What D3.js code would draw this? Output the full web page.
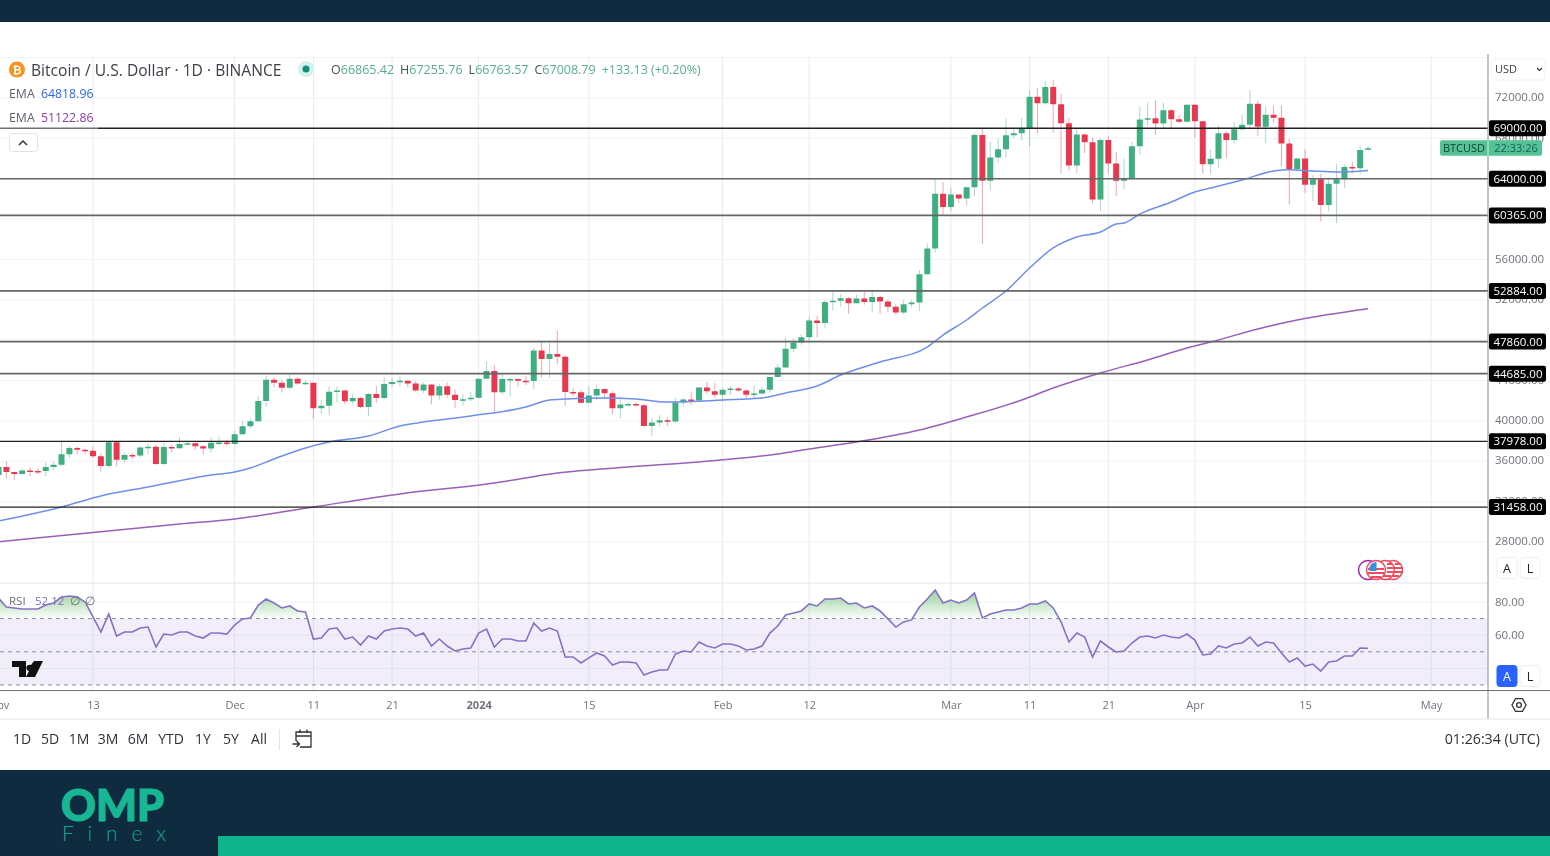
<!DOCTYPE html>
<html>
<head>
<meta charset="utf-8">
<script src="https://cdn.jsdelivr.net/npm/d3@7"></script>
<style>
html, body { margin: 0; padding: 0; background: #fff; overflow: hidden; }
svg { display: block; }
text { font-family: "Open Sans", Roboto, sans-serif; }
#chart .soft { filter: blur(0.55px); }
</style>
</head>
<body>
<div id="chart"></div>
<script>
// Daily candles, 1 Nov 2023 to 23 Apr 2024
const firstDay = "2023-11-01";
const lastDay = "2024-04-23";

const candleClose = [
  35421, 34941, 34732, 35082, 35048, 35038, 35443, 35655, 36693, 37314, 37138, 37054, 36502, 35537, 37880,
  36163, 36613, 36568, 37359, 37448, 35741, 37408, 37289, 37720, 37796, 37479, 37254, 37831, 37858, 37712,
  38688, 39476, 39978, 41980, 44080, 43777, 43292, 44180, 43713, 43789, 41253, 41492, 42892, 43022, 41940, 42278,
  41374, 42657, 42272, 43668, 43861, 43970, 43703, 43017, 43600, 42520, 43443, 42581, 42066, 42141, 42283,
  44179, 44946, 42845, 44151, 44162, 43989, 43943, 46970, 46139, 46627, 46368, 42853, 42842, 41796, 42511, 43154,
  42742, 41262, 41618, 41665, 41545, 39507, 39845, 40077, 39933, 41816, 42120, 42031, 43300, 42941, 42580,
  43082, 43200, 43011, 42582, 42708, 43098, 44349, 45288, 47147, 47771, 48293, 49958, 49699, 51795, 51915,
  52160, 51662, 52122, 51779, 52284, 51839, 51304, 50731, 51571, 51733, 54522, 57085, 62504, 61198,
  62440, 62029, 63167, 68330, 63801, 66106, 66925, 68300, 68498, 69019, 72123, 71481, 73078, 71388, 69499, 65300,
  68393, 67609, 61937, 67840, 65501, 63796, 64037, 67211, 69880, 69988, 69469, 70780, 69897, 69645, 71333,
  69702, 65446, 65980, 68508, 67837, 68896, 69360, 71420, 69146, 70330, 70050, 67500, 64960, 66000, 63400,
  63950, 61400, 63500, 63950, 65150, 65050, 66837, 67008.79
];

const candleOpen = [
  34639, 35421, 34941, 34732, 35082, 35048, 35038, 35443, 35655, 36693, 37314, 37138, 37054, 36502, 35537,
  37880, 36163, 36613, 36568, 37359, 37448, 35741, 37408, 37289, 37720, 37796, 37479, 37254, 37831, 37858,
  37712, 38688, 39476, 39978, 41980, 44080, 43777, 43292, 44180, 43713, 43789, 41253, 41492, 42892, 43022, 41940,
  42278, 41374, 42657, 42272, 43668, 43861, 43970, 43703, 43017, 43600, 42520, 43443, 42581, 42066, 42141,
  42283, 44179, 44946, 42845, 44151, 44162, 43989, 43943, 46970, 46139, 46627, 46368, 42853, 42842, 41796, 42511,
  43154, 42742, 41262, 41618, 41665, 41545, 39507, 39845, 40077, 39933, 41816, 42120, 42031, 43300, 42941,
  42580, 43082, 43200, 43011, 42582, 42708, 43098, 44349, 45288, 47147, 47771, 48293, 49958, 49699, 51795,
  51915, 52160, 51662, 52122, 51779, 52284, 51839, 51304, 50731, 51571, 51733, 54522, 57085, 62504,
  61198, 62440, 62029, 63167, 68330, 63801, 66106, 66925, 68300, 68498, 69019, 72123, 71481, 73078, 71388, 69499,
  65300, 68393, 67609, 61937, 67840, 65501, 63796, 64037, 67211, 69880, 69988, 69469, 70780, 69897, 69645,
  71333, 69702, 65446, 65980, 68508, 67837, 68896, 69360, 71420, 69146, 70330, 70050, 67500, 64960, 66000,
  63400, 63950, 61400, 63500, 63950, 65150, 65050, 66865.42
];

const candleHigh = [
  35500, 35984, 34946, 35250, 35380, 35277, 35900, 35994, 37972, 37526, 37437, 37228, 37430, 36758, 37980,
  37926, 36860, 36845, 37500, 37750, 37650, 37850, 37653, 38416, 37892, 37820, 37590, 38380, 38450, 38150,
  38999, 40000, 40250, 42420, 44490, 44300, 44049, 44700, 44358, 44041, 43808, 42104, 43433, 43420, 43088, 42717,
  42400, 42765, 43488, 44283, 44240, 44398, 44015, 43945, 43818, 43600, 43700, 43804, 43124, 42613, 42899,
  44186, 45879, 45500, 44729, 44300, 44214, 44468, 47248, 47893, 47695, 48969, 46515, 43257, 43079, 43400, 43578,
  43198, 42930, 42209, 41875, 41870, 41689, 40280, 40555, 40348, 42246, 42200, 42842, 43333, 43882, 43745,
  43285, 43422, 43380, 43119, 43494, 43399, 44396, 45614, 48200, 48170, 48592, 50334, 50368, 52043, 52816,
  52572, 52249, 52487, 52985, 53000, 52372, 52020, 51548, 51958, 51958, 54938, 57588, 64000, 63676,
  63114, 62383, 63230, 68499, 69000, 67637, 67990, 69990, 69015, 70000, 72800, 72969, 73650, 73777, 72419, 70043,
  68920, 68500, 68100, 68029, 68240, 66649, 65999, 67622, 71150, 71561, 71769, 71552, 70916, 70321, 71366,
  71366, 69674, 66914, 69291, 68725, 69629, 70326, 72797, 71758, 71172, 71227, 71256, 67931, 66100, 66900,
  64365, 64499, 64125, 65450, 65399, 65665, 67233, 67255.76
];

const candleLow = [
  34150, 34300, 34120, 34739, 34534, 34725, 34525, 35112, 35534, 36333, 36700, 36760, 36333, 35000, 35360,
  35500, 35875, 36180, 36366, 36700, 35620, 35640, 36870, 37250, 37600, 37150, 36700, 36874, 37600, 37500,
  37615, 38650, 39287, 39980, 41400, 43335, 42821, 43081, 43584, 43565, 40222, 40680, 40555, 41810, 41666, 41600,
  41250, 40500, 41800, 42167, 43330, 43400, 43308, 42900, 42750, 41637, 42100, 42300, 41300, 41520, 41965,
  42180, 44148, 40750, 42630, 42450, 43397, 43560, 43176, 44300, 44300, 45606, 41500, 42436, 41720, 41718, 42050,
  42200, 40683, 40280, 41446, 41400, 39431, 38555, 39484, 39500, 39822, 41394, 41620, 41804, 42683, 42276,
  41884, 42584, 42880, 42222, 42258, 42574, 42788, 44331, 45242, 46800, 47557, 47710, 48300, 49225, 50936,
  51334, 50625, 51668, 51518, 50760, 50625, 50773, 50500, 50560, 51280, 50901, 54450, 56700, 60364,
  60777, 61630, 61300, 62300, 57530, 62848, 65550, 66082, 68023, 67793, 67194, 68500, 71333, 68555, 64533, 64780,
  64555, 66550, 61555, 60775, 64529, 62260, 63000, 63825, 66385, 69280, 68359, 68903, 69009, 69540, 69562,
  68062, 64550, 64493, 65064, 66011, 67491, 68824, 69043, 68210, 67518, 69553, 65254, 61450, 64700, 62600,
  61800, 59768, 60775, 59600, 63100, 64500, 64500, 66763.57
];

// EMA lines, read at these days
const emaFastDays = ["2023-11-01", "2023-11-09", "2023-11-14", "2023-11-20", "2023-11-28", "2023-12-01", "2023-12-03", "2023-12-06", "2023-12-10", "2023-12-13", "2023-12-18", "2023-12-22", "2023-12-25", "2023-12-31", "2024-01-07", "2024-01-10", "2024-01-12", "2024-01-17", "2024-01-21", "2024-01-25", "2024-02-01", "2024-02-06", "2024-02-09", "2024-02-13", "2024-02-16", "2024-02-21", "2024-02-27", "2024-02-29", "2024-03-03", "2024-03-05", "2024-03-08", "2024-03-11", "2024-03-14", "2024-03-17", "2024-03-20", "2024-03-22", "2024-03-23", "2024-03-25", "2024-03-29", "2024-04-01", "2024-04-03", "2024-04-07", "2024-04-11", "2024-04-13", "2024-04-16", "2024-04-19", "2024-04-23"];
const emaFastValues = [30080, 31470, 32560, 33450, 34640, 34940, 35330, 36230, 37320, 37910, 38500, 39500, 39890, 40490, 41380, 42070, 42170, 42270, 42170, 41870, 42070, 42270, 42770, 43460, 44550, 45840, 47320, 48510, 50000, 51190, 52870, 55150, 57140, 58230, 58720, 59510, 59610, 60500, 61690, 62690, 63080, 63880, 64770, 64900, 64770, 64670, 64818.96];

const emaSlowDays = ["2023-11-01", "2023-11-12", "2023-11-24", "2023-12-01", "2023-12-11", "2023-12-22", "2024-01-03", "2024-01-11", "2024-01-20", "2024-01-29", "2024-02-08", "2024-02-12", "2024-02-18", "2024-02-26", "2024-03-03", "2024-03-10", "2024-03-14", "2024-03-20", "2024-03-26", "2024-03-31", "2024-04-03", "2024-04-10", "2024-04-14", "2024-04-23"];
const emaSlowValues = [28030, 28870, 29780, 30280, 31470, 32760, 33850, 34840, 35430, 35930, 36720, 37220, 37910, 39100, 40390, 42070, 43260, 44750, 46040, 47230, 47820, 49310, 50000, 51122.86];

// RSI, one value per day
const rsiValues = [
  82.4, 77.0, 76.4, 75.8, 75.8, 75.8, 78.2, 79.4, 83.0, 83.6, 83.0, 80.0, 71.0, 61.9, 72.8,
  59.5, 61.9, 61.9, 64.3, 64.9, 52.9, 60.7, 60.1, 61.9, 61.9, 59.5, 58.3, 61.3, 61.3, 60.7,
  66.1, 69.8, 70.4, 78.2, 81.8, 79.4, 76.4, 77.6, 74.6, 74.0, 57.7, 58.3, 63.7, 64.3, 57.7, 58.9,
  54.1, 59.5, 57.7, 62.5, 63.7, 64.3, 63.7, 59.5, 61.3, 53.5, 57.7, 53.5, 50.5, 51.7, 52.3,
  61.3, 63.7, 52.9, 57.7, 57.7, 56.5, 56.5, 67.3, 62.5, 64.3, 62.5, 46.9, 46.9, 43.3, 46.3, 49.3,
  47.5, 42.0, 43.9, 43.9, 43.3, 36.0, 37.8, 39.0, 39.0, 48.7, 50.5, 49.9, 55.9, 53.5, 52.3,
  54.7, 54.7, 53.5, 51.1, 51.7, 53.5, 61.3, 65.5, 72.2, 73.4, 74.6, 78.8, 77.6, 81.8, 81.8,
  82.4, 78.8, 79.4, 76.4, 77.6, 74.6, 69.8, 64.9, 68.0, 69.2, 77.0, 81.8, 87.2, 79.4,
  81.2, 79.4, 81.2, 85.4, 70.4, 72.8, 74.0, 75.2, 75.2, 76.4, 78.8, 78.8, 80.6, 76.4, 68.0, 55.9,
  61.3, 58.9, 46.9, 56.5, 52.9, 49.9, 50.5, 55.3, 58.9, 59.5, 58.3, 60.1, 58.9, 58.3, 60.7,
  57.1, 48.1, 48.7, 53.5, 52.3, 54.7, 55.3, 58.9, 53.5, 55.9, 55.3, 49.3, 43.9, 46.3, 41.4,
  42.6, 38.4, 43.9, 44.5, 47.5, 47.5, 52.3, 52.12
];

// Horizontal levels and axis labels
const levels = [69000, 64000, 60365, 52884, 47860, 44685, 37978, 31458];
const priceTicks = [28000, 32000, 36000, 40000, 44000, 48000, 52000, 56000, 60000, 64000, 68000, 72000, 76000];
const rsiTicks = [40, 60, 80];
const rsiBands = [70, 50, 30];
const timeTickDays = ["2023-11-01", "2023-11-13", "2023-12-01", "2023-12-11", "2023-12-21", "2024-01-01", "2024-01-15", "2024-02-01", "2024-02-12", "2024-03-01", "2024-03-11", "2024-03-21", "2024-04-01", "2024-04-15", "2024-05-01"];
const timeTickLabels = ["Nov", "13", "Dec", "11", "21", "2024", "15", "Feb", "12", "Mar", "11", "21", "Apr", "15", "May"];
const rangeButtons = ["1D", "5D", "1M", "3M", "6M", "YTD", "1Y", "5Y", "All"];
const rangeButtonX = [22, 50, 79, 108, 138, 171, 203, 231, 259];

const W = 1550, H = 856;
const navy = "#0f2b40", teal = "#10b48c";
const up = "#3fae80", down = "#e8384f";
const gridColor = "#f0f3f8";
const axisX = 1488;

const parseDay = d3.utcParse("%Y-%m-%d");
const days = d3.utcDay.range(parseDay(firstDay), d3.utcDay.offset(parseDay(lastDay), 1));

const x = d3.scaleUtc().domain([parseDay("2023-11-13"), parseDay("2024-05-01")]).range([93, 1431]);
const y = d3.scaleLinear().domain([28000, 72000]).range([542, 98]);
const yRsi = d3.scaleLinear().domain([30, 80]).range([685, 602]);

const svg = d3.select("#chart").append("svg").attr("width", W).attr("height", H);
const defs = svg.append("defs");

// Page frame
svg.append("rect").attr("width", W).attr("height", H).attr("fill", "#fff");
svg.append("rect").attr("width", W).attr("height", 22).attr("fill", navy);
svg.append("rect").attr("y", 770).attr("width", W).attr("height", 86).attr("fill", navy);
svg.append("rect").attr("x", 218).attr("y", 836).attr("width", W - 218).attr("height", 20).attr("fill", teal);

// Logo
svg.append("text").attr("x", 61).attr("y", 821)
  .attr("fill", "#17b794").attr("stroke", "#17b794").attr("stroke-width", 1.2)
  .style("font-family", "Lato, sans-serif").style("font-weight", 900).style("font-size", "44px")
  .attr("textLength", 103).attr("lengthAdjust", "spacingAndGlyphs").text("OMP");
svg.append("text").attr("x", 62).attr("y", 841)
  .attr("fill", "#17a58c").style("font-family", "Lato, sans-serif").style("font-weight", 300).style("font-size", "21px")
  .attr("textLength", 104).text("Finex");

const chart = svg.append("g").attr("class", "soft");

defs.append("clipPath").attr("id", "plot").append("rect").attr("x", 0).attr("y", 56).attr("width", axisX).attr("height", 527);
defs.append("clipPath").attr("id", "rsiPlot").append("rect").attr("x", 0).attr("y", 584).attr("width", axisX).attr("height", 106);
defs.append("clipPath").attr("id", "rsiTop").append("rect").attr("x", 0).attr("y", 584).attr("width", axisX).attr("height", yRsi(70) - 584);

const fade = defs.append("linearGradient").attr("id", "rsiFade").attr("x1", 0).attr("x2", 0)
  .attr("gradientUnits", "userSpaceOnUse").attr("y1", yRsi(88)).attr("y2", yRsi(70));
fade.append("stop").attr("offset", 0).attr("stop-color", "#4caf50").attr("stop-opacity", 0.6);
fade.append("stop").attr("offset", 1).attr("stop-color", "#4caf50").attr("stop-opacity", 0.02);

// Grid
chart.append("g").selectAll("line").data(timeTickDays).join("line")
  .attr("x1", d => x(parseDay(d))).attr("x2", d => x(parseDay(d)))
  .attr("y1", 56).attr("y2", 690).attr("stroke", "#e6eaf2");
chart.append("g").selectAll("line").data(priceTicks).join("line")
  .attr("x1", 0).attr("x2", axisX).attr("y1", d => y(d)).attr("y2", d => y(d)).attr("stroke", gridColor);
chart.append("g").selectAll("line").data(rsiTicks).join("line")
  .attr("x1", 0).attr("x2", axisX).attr("y1", d => yRsi(d)).attr("y2", d => yRsi(d)).attr("stroke", gridColor);
chart.append("line").attr("x1", 0).attr("x2", axisX).attr("y1", 583).attr("y2", 583).attr("stroke", "#e4e7ee");

// RSI pane
chart.append("rect").attr("x", 0).attr("width", axisX).attr("y", yRsi(70)).attr("height", yRsi(30) - yRsi(70))
  .attr("fill", "#7e57c2").attr("opacity", 0.1);
const rsiPoints = rsiValues.map((v, i) => [days[i], v]);
chart.append("path").datum(rsiPoints).attr("clip-path", "url(#rsiTop)").attr("fill", "url(#rsiFade)")
  .attr("d", d3.area().x(d => x(d[0])).y0(yRsi(70)).y1(d => yRsi(d[1])));
chart.append("g").selectAll("line").data(rsiBands).join("line")
  .attr("x1", 0).attr("x2", axisX).attr("y1", d => yRsi(d)).attr("y2", d => yRsi(d))
  .attr("stroke", "#8a8d96").attr("stroke-dasharray", "4 4");
chart.append("path").datum(rsiPoints).attr("clip-path", "url(#rsiPlot)").attr("fill", "none")
  .attr("stroke", "#8672c4").attr("stroke-width", 1.6)
  .attr("d", d3.line().x(d => x(d[0])).y(d => yRsi(d[1])));

// Candles
const candles = chart.append("g").attr("clip-path", "url(#plot)");
const bars = candles.selectAll("g").data(days).join("g");
bars.append("line")
  .attr("x1", d => x(d)).attr("x2", d => x(d))
  .attr("y1", (d, i) => y(candleHigh[i])).attr("y2", (d, i) => y(candleLow[i]))
  .attr("stroke", (d, i) => candleClose[i] >= candleOpen[i] ? up : down).attr("stroke-opacity", 0.45);
bars.append("rect")
  .attr("x", d => x(d) - 3).attr("width", 6)
  .attr("y", (d, i) => y(Math.max(candleOpen[i], candleClose[i])))
  .attr("height", (d, i) => Math.max(1.5, Math.abs(y(candleOpen[i]) - y(candleClose[i]))))
  .attr("rx", 0.5)
  .attr("fill", (d, i) => candleClose[i] >= candleOpen[i] ? up : down);

// EMAs
const emaLine = d3.line().x(d => x(parseDay(d[0]))).y(d => y(d[1])).curve(d3.curveMonotoneX);
chart.append("path").datum(d3.zip(emaFastDays, emaFastValues)).attr("fill", "none").attr("stroke", "#6f8fe8").attr("stroke-width", 1.5).attr("d", emaLine);
chart.append("path").datum(d3.zip(emaSlowDays, emaSlowValues)).attr("fill", "none").attr("stroke", "#9a5fb8").attr("stroke-width", 1.5).attr("d", emaLine);

// Levels
chart.append("g").selectAll("line").data(levels).join("line")
  .attr("x1", 0).attr("x2", axisX).attr("y1", d => y(d)).attr("y2", d => y(d))
  .attr("stroke", d => (d === 69000 || d === 31458 || d === 37978) ? "#222" : "#666")
  .attr("stroke-width", d => (d === 69000 || d === 31458 || d === 37978) ? 1.3 : 1.6);

// Price axis
chart.append("line").attr("x1", axisX).attr("x2", axisX).attr("y1", 54).attr("y2", 719).attr("stroke", "#9a9da6").attr("stroke-width", 1.2);
const priceAxis = chart.append("g").attr("transform", `translate(${axisX},0)`)
  .call(d3.axisRight(y).tickValues(priceTicks.filter(d => d < 76000)).tickSize(0).tickPadding(7).tickFormat(d3.format(".2f")));
priceAxis.select(".domain").remove();
priceAxis.selectAll("text").attr("dy", "2.7px").attr("fill", "#6f727c").style("font-size", "11.5px").style("font-family", "'Open Sans', sans-serif");

const rsiAxis = chart.append("g").attr("transform", `translate(${axisX},0)`)
  .call(d3.axisRight(yRsi).tickValues([60, 80]).tickSize(0).tickPadding(7).tickFormat(d3.format(".2f")));
rsiAxis.select(".domain").remove();
rsiAxis.selectAll("text").attr("fill", "#6f727c").style("font-size", "11.5px").style("font-family", "'Open Sans', sans-serif");

// Level tags
const tags = chart.append("g").selectAll("g").data(levels).join("g").attr("transform", d => `translate(${axisX + 1},${y(d)})`);
tags.append("rect").attr("x", 0).attr("y", -8).attr("width", 57).attr("height", 16).attr("rx", 2).attr("fill", "#000");
tags.append("text").attr("x", 29).attr("y", 4).attr("text-anchor", "middle").attr("fill", "#fff").style("font-size", "11.5px").text(d => d3.format(".2f")(d));

// Current price tag
const lastY = y(candleClose[candleClose.length - 1]);
chart.append("rect").attr("x", 1440).attr("y", lastY - 8).attr("width", 102).attr("height", 15.5).attr("rx", 2).attr("fill", "#55c296");
chart.append("line").attr("x1", axisX).attr("x2", axisX).attr("y1", lastY - 8).attr("y2", lastY + 7.5).attr("stroke", "#d8f0e6");
chart.append("text").attr("x", 1464).attr("y", lastY + 4).attr("text-anchor", "middle").attr("fill", "#17403a").style("font-size", "11px").text("BTCUSD");
chart.append("text").attr("x", 1516).attr("y", lastY + 4).attr("text-anchor", "middle").attr("fill", "#17605a").style("font-size", "11px").text("22:33:26");

// Time axis
chart.append("line").attr("x1", 0).attr("x2", W).attr("y1", 690.5).attr("y2", 690.5).attr("stroke", "#6c6f78").attr("stroke-width", 1.2);
chart.append("line").attr("x1", 0).attr("x2", W).attr("y1", 719).attr("y2", 719).attr("stroke", "#e3e5ea");
const timeAxis = chart.append("g").attr("transform", "translate(0,690)")
  .call(d3.axisBottom(x).tickValues(timeTickDays.map(parseDay)).tickSize(0).tickPadding(11)
    .tickFormat((d, i) => timeTickLabels[i]));
timeAxis.select(".domain").remove();
timeAxis.selectAll("text").attr("fill", "#6f727c").style("font-size", "11px").style("font-family", "'Open Sans', sans-serif")
  .style("font-weight", (d, i) => timeTickLabels[i] === "2024" ? 700 : 400);

// Legend
const legend = chart.append("g");
legend.append("circle").attr("cx", 17).attr("cy", 69.5).attr("r", 8).attr("fill", "#f7931a");
legend.append("text").attr("x", 17).attr("y", 73.5).attr("text-anchor", "middle").attr("fill", "#fff").style("font-size", "11px").style("font-weight", 700).text("₿");
legend.append("text").attr("x", 31).attr("y", 75.5).attr("fill", "#3d4048").style("font-size", "15.6px").text("Bitcoin / U.S. Dollar · 1D · BINANCE");
legend.append("circle").attr("cx", 306).attr("cy", 69).attr("r", 8).attr("fill", "#d6f1ec");
legend.append("circle").attr("cx", 306).attr("cy", 69).attr("r", 3.5).attr("fill", "#10907c");

const ohlc = legend.append("text").attr("x", 331).attr("y", 74).style("font-size", "12.5px").attr("fill", "#55b18c");
[["O", "66865.42"], ["H", "67255.76"], ["L", "66763.57"], ["C", "67008.79"]].forEach(([k, v], i) => {
  ohlc.append("tspan").attr("fill", "#4a4d55").attr("dx", i ? 6 : 0).text(k);
  ohlc.append("tspan").text(v);
});
ohlc.append("tspan").attr("dx", 6).text("+133.13 (+0.20%)");

legend.append("rect").attr("x", 0).attr("y", 108).attr("width", 98).attr("height", 21).attr("fill", "#fff").attr("opacity", 0.35);
legend.append("text").attr("x", 9).attr("y", 98).attr("fill", "#5f6270").style("font-size", "12.3px").text("EMA");
legend.append("text").attr("x", 41).attr("y", 98).attr("fill", "#2f66e8").style("font-size", "12.3px").text("64818.96");
legend.append("text").attr("x", 9).attr("y", 122).attr("fill", "#5f6270").style("font-size", "12.3px").text("EMA");
legend.append("text").attr("x", 41).attr("y", 122).attr("fill", "#8e3aa8").style("font-size", "12.3px").text("51122.86");
legend.append("rect").attr("x", 9.5).attr("y", 133.5).attr("width", 28).attr("height", 18).attr("rx", 3).attr("fill", "#fff").attr("stroke", "#e1e3e8");
legend.append("path").attr("d", "M19,145 l4,-4 l4,4").attr("fill", "none").attr("stroke", "#333").attr("stroke-width", 1.5);

// RSI legend
legend.append("text").attr("x", 9).attr("y", 605).attr("fill", "#6b6e78").style("font-size", "11.5px").text("RSI");
legend.append("text").attr("x", 35).attr("y", 605).attr("fill", "#7e6cc0").style("font-size", "11.5px").text("52.12");
legend.append("text").attr("x", 70).attr("y", 605).attr("fill", "#6b6e78").style("font-size", "11.5px").text("∅");
legend.append("text").attr("x", 85).attr("y", 605).attr("fill", "#6b6e78").style("font-size", "11.5px").text("∅");

// Chart logo
legend.append("path").attr("fill", "#111").attr("transform", "translate(12,661)")
  .attr("d", "M0,0 H14 V16 H7 V6 H0 Z M22,0 H31 L23,16 H14 L17,10 A3.2,3.2 0 1 1 19,4 Z");

// Event markers
const markers = chart.append("g").attr("transform", "translate(0,570)");
markers.append("circle").attr("cx", 1368).attr("r", 9.5).attr("fill", "#fff").attr("stroke", "#9c27b0").attr("stroke-width", 1.5);
[1393, 1385].forEach(cx => {
  markers.append("circle").attr("cx", cx).attr("r", 9.5).attr("fill", "#fff").attr("stroke", "#ef4a5d").attr("stroke-width", 1.5);
  markers.append("path").attr("d", `M${cx + 2},-6 h5 M${cx + 2},-2 h8 M${cx + 2},2 h8 M${cx - 2},6 h8`).attr("stroke", "#ef4a5d").attr("stroke-width", 2);
});
markers.append("circle").attr("cx", 1376).attr("r", 9.5).attr("fill", "#fff").attr("stroke", "#ef4a5d").attr("stroke-width", 1.5);
markers.append("path").attr("d", "M1368,-1 h16 M1368,3 h16 M1371,7 h10").attr("stroke", "#ef4a5d").attr("stroke-width", 2);
markers.append("path").attr("d", "M1369.5,1 V-3 Q1371,-7.5 1376.5,-8 V1 Z").attr("fill", "#3b8de0");

// Scale buttons
[[1507, 568, false], [1530, 568, false], [1507, 676, true], [1530, 676, false]].forEach(([cx, cy, on], i) => {
  chart.append("rect").attr("x", cx - 10).attr("y", cy - 10.5).attr("width", 20).attr("height", 21).attr("rx", 3)
    .attr("fill", on ? "#2962ff" : "#fff").attr("stroke", on ? "#2962ff" : "#eceef2");
  chart.append("text").attr("x", cx).attr("y", cy + 4.5).attr("text-anchor", "middle")
    .attr("fill", on ? "#fff" : "#222").style("font-size", "12.5px").text(i % 2 ? "L" : "A");
});

// Axis settings icon
chart.append("path").attr("d", "M1515.5,698.7 h7 l3.5,6.3 l-3.5,6.3 h-7 l-3.5,-6.3 Z").attr("fill", "none").attr("stroke", "#333").attr("stroke-width", 1.3);
chart.append("circle").attr("cx", 1519).attr("cy", 705).attr("r", 2.4).attr("fill", "none").attr("stroke", "#333").attr("stroke-width", 1.3);

// Currency picker
chart.append("rect").attr("x", 1491).attr("y", 59).attr("width", 54).attr("height", 21).attr("rx", 3).attr("fill", "#fff").attr("stroke", "#f0f1f4");
chart.append("text").attr("x", 1495).attr("y", 73).attr("fill", "#3d3f48").style("font-size", "11px").text("USD");
chart.append("path").attr("d", "M1537,68 l2.5,2.5 l2.5,-2.5").attr("fill", "none").attr("stroke", "#333").attr("stroke-width", 1.2);

// Bottom toolbar
chart.append("g").selectAll("text").data(rangeButtons).join("text")
  .attr("x", (d, i) => rangeButtonX[i]).attr("y", 744).attr("text-anchor", "middle")
  .attr("fill", "#2f3138").style("font-size", "14px").text(d => d);
chart.append("line").attr("x1", 279.5).attr("x2", 279.5).attr("y1", 729).attr("y2", 750).attr("stroke", "#e3e5ea");
chart.append("path").attr("fill", "none").attr("stroke", "#2f3138").attr("stroke-width", 1.3)
  .attr("d", "M296,741 V732 H311 V747 H300 M296,736 H311 M300,729.5 V733 M307,729.5 V733 M292.5,744 H299 M296.5,741 L299.5,744 L296.5,747");
chart.append("text").attr("x", 1540).attr("y", 744).attr("text-anchor", "end").attr("fill", "#2f3138").style("font-size", "14.2px").text("01:26:34 (UTC)");
</script>
</body>
</html>
